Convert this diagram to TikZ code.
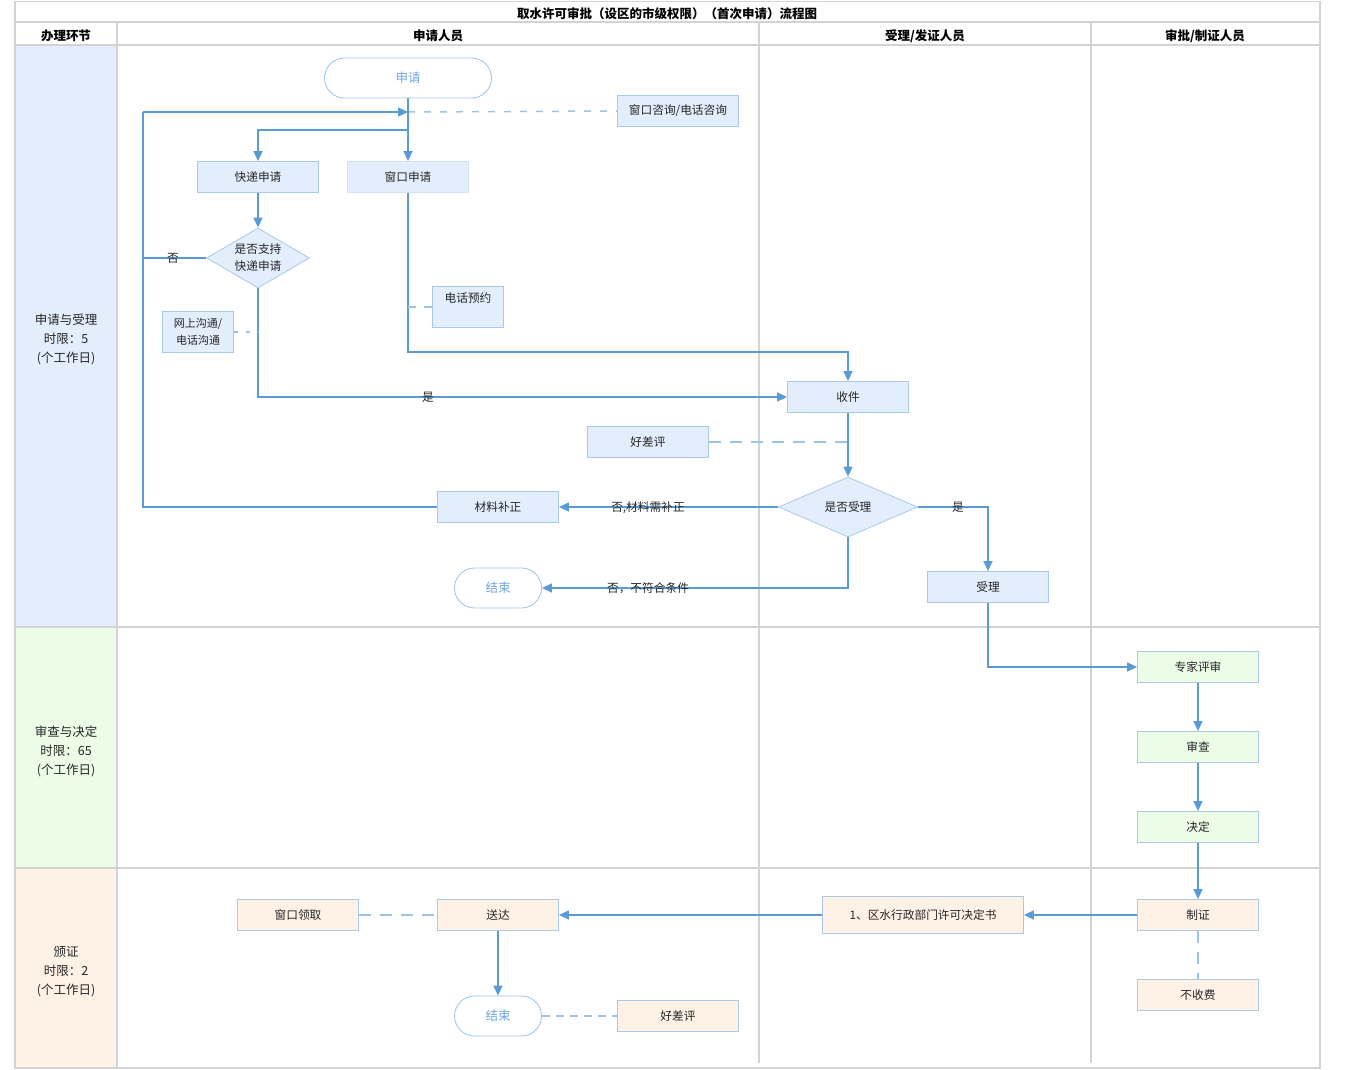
\documentclass[tikz,border=0pt]{standalone}
\usepackage{fontspec}
\setmainfont{Noto Sans CJK SC}
\usetikzlibrary{shapes.geometric,arrows.meta}
\definecolor{ln}{HTML}{5B9BD5}
\definecolor{dl}{HTML}{9DC3E6}
\definecolor{bd}{HTML}{A9C8EA}
\definecolor{fb}{HTML}{E3EEFD}
\definecolor{fg}{HTML}{EBFDE7}
\definecolor{fo}{HTML}{FEF2E6}
\definecolor{tt}{HTML}{6FA8DC}
\definecolor{tx}{HTML}{262626}
\definecolor{gr}{HTML}{D3D3D3}
\begin{document}
\begin{tikzpicture}[x=1pt,y=-1pt,
  nfont/.style={font=\fontsize{11.7}{17}\selectfont},
  box/.style={draw=bd, fill=fb, line width=0.8pt, minimum width=121pt, minimum height=31pt, inner sep=0pt, nfont, text=tx, align=center},
  gbox/.style={box, fill=fg},
  obox/.style={box, fill=fo},
  term/.style={draw=dl, fill=white, line width=0.8pt, rounded corners=20pt, minimum width=87pt, minimum height=40pt, inner sep=0pt, text=tt, font=\fontsize{12.5}{15}\selectfont},
  dia/.style={diamond, draw=bd, fill=fb, line width=0.8pt, aspect=1.7, inner sep=0pt, nfont, text=tx, align=center},
  flow/.style={draw=ln, line width=1.5pt, -{Triangle[length=10pt,width=9pt]}},
  plain/.style={draw=ln, line width=1.5pt},
  dsh/.style={draw=dl, line width=1.5pt, dash pattern=on 7pt off 9pt},
  lab/.style={text=tx, nfont, inner sep=0pt},
  grid/.style={draw=gr, line width=1.6pt},
  hdr/.style={font=\bfseries\fontsize{12.5}{15}\selectfont, text=black, inner sep=0pt},
  side/.style={font=\fontsize{12.5}{19}\selectfont, text=tx, align=center, inner sep=0pt}
]
\useasboundingbox (0,0) rectangle (1350,1070);
% lane fills
\fill[fb] (15,45) rectangle (117,627);
\fill[fg] (15,627) rectangle (117,868);
\fill[fo] (15,868) rectangle (117,1068);
% grid
\draw[grid] (15,1.5) rectangle (1320,1068);
\draw[grid] (15,22) -- (1320,22);
\draw[grid] (15,45) -- (1320,45);
\draw[grid] (117,22) -- (117,1068);
\draw[grid] (759,22) -- (759,1063);
\draw[grid] (1091,22) -- (1091,1063);
\draw[grid] (15,627) -- (1320,627);
\draw[grid] (15,868) -- (1320,868);
% titles
\node[hdr] (title) at (667,14) {取水许可审批（设区的市级权限）（首次申请）流程图};
\node[hdr] (h1) at (66,36) {办理环节};
\node[hdr] (h2) at (438,36) {申请人员};
\node[hdr] (h3) at (925,36) {受理/发证人员};
\node[hdr] (h4) at (1205,36) {审批/制证人员};
\node[side] (s1) at (66,339) {申请与受理\\时限：5\\(个工作日)};
\node[side] (s2) at (66,751) {审查与决定\\时限：65\\(个工作日)};
\node[side] (s3) at (66,972) {颁证\\时限：2\\(个工作日)};
% nodes
\node[term, minimum width=167pt] (sq) at (408,78) {申请};
\node[box] (zx) at (678,111) {窗口咨询/电话咨询};
\node[box] (kd) at (258,177) {快递申请};
\node[box, draw=fb!70!bd] (ck) at (408,177) {窗口申请};
\node[dia, minimum width=103pt, minimum height=60pt] (zc) at (258,258) {是否支持\\快递申请};
\node[box, minimum width=71pt, minimum height=41pt, font=\fontsize{11}{17}\selectfont] (gt) at (198,332) {网上沟通/\\电话沟通};
\node[box, minimum width=71pt, minimum height=41pt] (yy) at (468,307) {};
\node[lab] (yyt) at (468,298) {电话预约};
\node[box] (sj) at (848,397) {收件};
\node[box] (hp1) at (648,442) {好差评};
\node[dia, minimum width=139pt, minimum height=60pt] (sl) at (848,507) {是否受理};
\node[box] (bz) at (498,507) {材料补正};
\node[term] (js1) at (498,588) {结束};
\node[box] (slb) at (988,587) {受理};
\node[gbox] (zj) at (1198,667) {专家评审};
\node[gbox] (sc) at (1198,747) {审查};
\node[gbox] (jd) at (1198,827) {决定};
\node[obox] (zz) at (1198,915) {制证};
\node[obox] (bsf) at (1198,995) {不收费};
\node[obox, minimum width=201pt, minimum height=37pt] (jds) at (923,915) {1、区水行政部门许可决定书};
\node[obox] (sd) at (498,915) {送达};
\node[obox] (lq) at (298,915) {窗口领取};
\node[term] (js2) at (498,1016) {结束};
\node[obox] (hp2) at (678,1016) {好差评};
% coordinates
\coordinate (j1) at (408,112);
\coordinate (j2) at (408,130);
\coordinate (lx) at (143,112);
% connectors
\draw[dsh] (j1) -- (zx.west);
\draw[flow] (sq.south) -- (ck.north);
\draw[flow] (j2) -| (kd.north);
\draw[flow] (kd.south) -- (zc.north);
\draw[plain] (bz.west) -| (lx);
\draw[flow] (lx) -- (j1);
\draw[plain] (zc.west) -- (143,258);
\node[lab] (lno) at (173,258) {否};
\draw[flow] (zc.south) |- (sj.west);
\node[lab] (lyes) at (428,397) {是};
\draw[dsh, dash pattern=on 4pt off 8pt] (gt.east) -- (zc.south |- gt.east);
\draw[flow] (ck.south) |- (848,352) -- (sj.north);
\draw[dsh, dash pattern=on 8pt off 8pt] (ck.south |- yy.west) -- (yy.west);
\draw[flow] (sj.south) -- (sl.north);
\draw[dsh, dash pattern=on 12pt off 9pt] (hp1.east) -- (sj.south |- hp1.east);
\draw[flow] (sl.west) -- (bz.east);
\node[lab] (lbz) at (648,508) {否,材料需补正};
\draw[flow] (sl.south) |- (js1.east);
\node[lab] (lbf) at (648,588) {否，不符合条件};
\draw[flow] (sl.east) -| (slb.north);
\node[lab] (lsl) at (958,507) {是};
\draw[flow] (slb.south) |- (zj.west);
\draw[flow] (zj.south) -- (sc.north);
\draw[flow] (sc.south) -- (jd.north);
\draw[flow] (jd.south) -- (zz.north);
\draw[dsh, dash pattern=on 12pt off 9pt] (zz.south) -- (bsf.north);
\draw[flow] (zz.west) -- (jds.east);
\draw[flow] (jds.west) -- (sd.east);
\draw[dsh, dash pattern=on 12pt off 9pt] (lq.east) -- (sd.west);
\draw[flow] (sd.south) -- (js2.north);
\draw[dsh, dash pattern=on 8pt off 6pt] (js2.east) -- (hp2.west);
\end{tikzpicture}
\end{document}
